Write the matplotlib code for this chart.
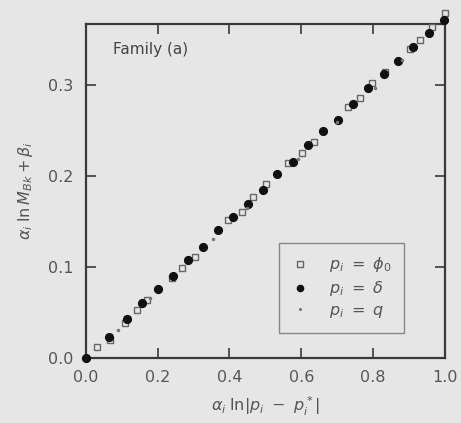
import numpy as np
import matplotlib
matplotlib.use("Agg")
import matplotlib.pyplot as plt

# ---------------------------------------------------------------------------
# Data: scaled log-moment versus scaled log-distance, three choices of p_i
phi_x = [0.031, 0.067, 0.109, 0.142, 0.170, 0.240, 0.268, 0.304, 0.396, 0.435,
         0.466, 0.502, 0.563, 0.603, 0.636, 0.731, 0.764, 0.798, 0.834, 0.904,
         0.932, 0.965, 0.999]
phi_y = [0.012, 0.020, 0.038, 0.053, 0.064, 0.088, 0.099, 0.111, 0.152, 0.160,
         0.177, 0.191, 0.214, 0.225, 0.237, 0.276, 0.286, 0.302, 0.314, 0.340,
         0.349, 0.364, 0.379]

delta_x = [0.0, 0.064, 0.114, 0.156, 0.201, 0.243, 0.285, 0.326, 0.368, 0.410,
           0.452, 0.494, 0.533, 0.577, 0.619, 0.661, 0.703, 0.745, 0.787, 0.831,
           0.870, 0.912, 0.956, 0.997]
delta_y = [0.0, 0.023, 0.043, 0.060, 0.076, 0.090, 0.108, 0.122, 0.141, 0.155,
           0.169, 0.185, 0.202, 0.215, 0.234, 0.249, 0.262, 0.279, 0.297, 0.312,
           0.326, 0.342, 0.357, 0.371]

q_x = [0.090, 0.180, 0.355, 0.450, 0.590, 0.700, 0.805, 0.880]
q_y = [0.031, 0.066, 0.131, 0.165, 0.219, 0.259, 0.297, 0.327]

x_ticks = [0.0, 0.2, 0.4, 0.6, 0.8, 1.0]
y_ticks = [0.0, 0.1, 0.2, 0.3]

# ---------------------------------------------------------------------------
bg = '#e6e6e6'
ink = '#3a3a3a'

fig = plt.figure(figsize=(4.61, 4.23), dpi=100, facecolor=bg)
ax = fig.add_axes([0.186, 0.154, 0.779, 0.789], facecolor=bg)

ax.plot(phi_x, phi_y, linestyle='none', marker='s', markersize=4.8,
        markerfacecolor='none', markeredgecolor='#666666', markeredgewidth=1.0,
        label=r'$p_i\ =\ \phi_0$', clip_on=False, zorder=3)
ax.plot(delta_x, delta_y, linestyle='none', marker='o', markersize=5.6,
        color='#111111', label=r'$p_i\ =\ \delta$', clip_on=False, zorder=4)
ax.plot(q_x, q_y, linestyle='none', marker='.', markersize=3,
        color='#777777', label=r'$p_i\ =\ q$', clip_on=False, zorder=5)

ax.set_xlim(0, 1.0)
ax.set_ylim(0, 0.367)
ax.set_xticks(x_ticks)
ax.set_yticks(y_ticks)
ax.set_xticklabels(['%.1f' % v for v in x_ticks])
ax.set_yticklabels(['%.1f' % v for v in y_ticks])
ax.tick_params(direction='in', length=7, width=1.2, colors=ink,
               labelsize=11.5, top=True, right=True, pad=9,
               labelcolor='#555555')
for s in ax.spines.values():
    s.set_linewidth(1.6)
    s.set_color(ink)

ax.set_xlabel(r'$\alpha_i\;\ln|p_i\ -\ p_i^*|$', fontsize=11.5, color='#555555',
              labelpad=7)
ax.set_ylabel(r'$\alpha_i\;\ln M_{Bk} + \beta_i$', fontsize=11.5, color='#555555',
              labelpad=9)

ax.text(0.075, 0.925, 'Family (a)', transform=ax.transAxes, fontsize=11,
        color='#444444', va='center', ha='left')

leg = ax.legend(loc='lower right', bbox_to_anchor=(0.887, 0.075), borderaxespad=0,
                fontsize=11.5, frameon=True, fancybox=False, framealpha=1.0,
                handlelength=1.0, handletextpad=1.3, borderpad=0.8,
                labelspacing=0.3, markerscale=0.8, labelcolor='#555555')
leg.get_frame().set_facecolor(bg)
leg.get_frame().set_edgecolor('#888888')
leg.get_frame().set_linewidth(1.0)

fig.savefig('out.png', dpi=100, facecolor=bg)
